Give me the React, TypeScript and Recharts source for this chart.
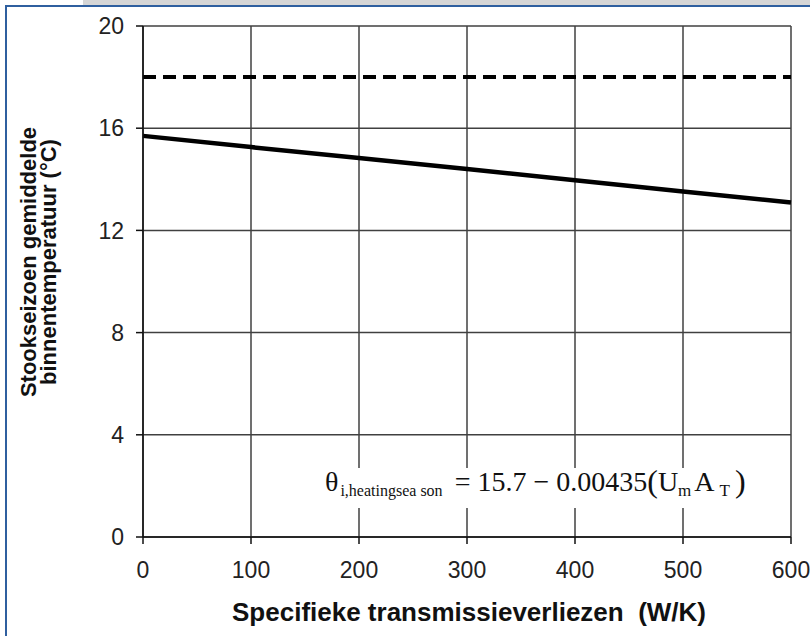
import React from 'react';
import { LineChart, Line, XAxis, YAxis, CartesianGrid } from 'recharts';

const transmissionLoss = [0, 100, 200, 300, 400, 500, 600];
const meanIndoorTemp = [15.7, 15.26, 14.83, 14.4, 13.96, 13.52, 13.09];
const setpointTemp = [18, 18, 18, 18, 18, 18, 18];
const xTicks = [0, 100, 200, 300, 400, 500, 600];
const yTicks = [0, 4, 8, 12, 16, 20];

const data = transmissionLoss.map((x, i) => ({
  x,
  mean: meanIndoorTemp[i],
  setpoint: setpointTemp[i],
}));

const sans = '"Liberation Sans", Arial, sans-serif';
const serif = '"Liberation Serif", "Times New Roman", serif';
const frameBlue = '#2f5f9f';

export default function App() {
  return (
    <div
      style={{
        position: 'absolute',
        left: 0,
        top: 0,
        width: 810,
        height: 636,
        background: '#fff',
        overflow: 'hidden',
      }}
    >
      {/* frame like the screenshot */}
      <div style={{ position: 'absolute', left: 83, top: 0, width: 727, height: 5, background: '#d6d6d6' }} />
      <div style={{ position: 'absolute', left: 5, top: 5, width: 805, height: 2, background: frameBlue }} />
      <div style={{ position: 'absolute', left: 5, top: 5, width: 2, height: 631, background: frameBlue }} />

      <div style={{ position: 'absolute', left: 0, top: 0 }}>
        <LineChart width={810} height={636} data={data} margin={{ top: 26, right: 19, bottom: 69, left: 83 }}>
          <CartesianGrid stroke="#404040" strokeWidth={1.5} />
          <XAxis
            dataKey="x"
            type="number"
            domain={[0, 600]}
            ticks={xTicks}
            height={30}
            tickSize={7}
            stroke="#111"
            strokeWidth={1.5}
            tick={{ fill: '#222', fontSize: 23, fontFamily: sans }}
            tickMargin={18}
          />
          <YAxis
            type="number"
            domain={[0, 20]}
            ticks={yTicks}
            width={60}
            tickSize={7}
            stroke="#111"
            strokeWidth={1.5}
            tick={{ fill: '#222', fontSize: 23, fontFamily: sans }}
            tickMargin={12}
          />
          <Line
            dataKey="setpoint"
            stroke="#000"
            strokeWidth={4}
            strokeDasharray="13 7"
            dot={false}
            isAnimationActive={false}
          />
          <Line dataKey="mean" stroke="#000" strokeWidth={4.5} dot={false} isAnimationActive={false} />
        </LineChart>
      </div>

      {/* y axis title */}
      <div
        style={{
          position: 'absolute',
          left: 39,
          top: 262,
          transform: 'translate(-50%, -50%) rotate(-90deg)',
          whiteSpace: 'nowrap',
          textAlign: 'center',
          fontFamily: sans,
          fontWeight: 'bold',
          fontSize: 22,
          lineHeight: '20px',
          color: '#111',
        }}
      >
        Stookseizoen gemiddelde
        <br />
        binnentemperatuur (°C)
      </div>

      {/* x axis title */}
      <div
        style={{
          position: 'absolute',
          left: 469,
          top: 612,
          transform: 'translate(-50%, -50%)',
          whiteSpace: 'pre',
          fontFamily: sans,
          fontWeight: 'bold',
          fontSize: 26,
          color: '#111',
        }}
      >
        {'Specifieke transmissieverliezen  (W/K)'}
      </div>

      {/* regression formula, on a white box over the grid */}
      <svg width={810} height={636} style={{ position: 'absolute', left: 0, top: 0, pointerEvents: 'none' }}>
        <rect x={318} y={468} width={440} height={40} fill="#fff" />
        <text x={325} y={491} fontFamily={serif} fontSize={28} fill="#111">
          <tspan>θ</tspan>
          <tspan fontSize={16} dy={5} dx={2}>i,heatingsea son</tspan>
          <tspan dy={-5} dx={12}>= 15.7 − 0.00435</tspan>
          <tspan fontSize={32} dy={1}>(</tspan>
          <tspan dy={-1}>U</tspan>
          <tspan fontSize={17} dy={5}>m</tspan>
          <tspan dy={-5} dx={3}>A</tspan>
          <tspan fontSize={17} dy={5} dx={5}>T</tspan>
          <tspan fontSize={32} dy={-4} dx={5}>)</tspan>
        </text>
      </svg>
    </div>
  );
}
